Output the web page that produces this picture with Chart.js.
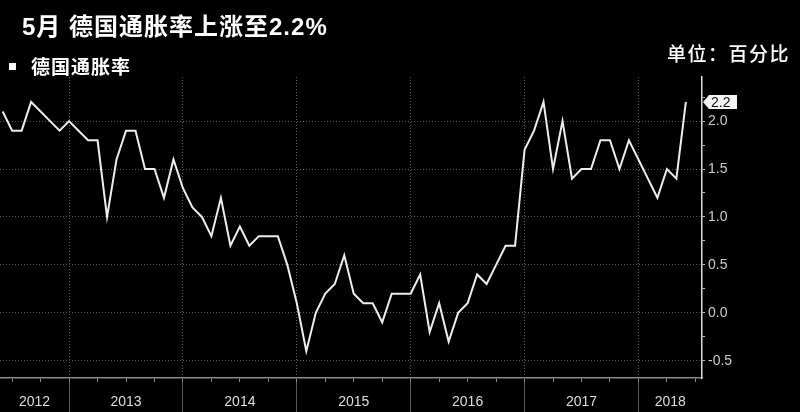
<!DOCTYPE html>
<html lang="zh-CN">
<head>
<meta charset="UTF-8">
<title>5月德国通胀率上涨至2.2%</title>
<script src="https://cdn.jsdelivr.net/npm/chart.js"></script>
<style>
  html, body { margin: 0; padding: 0; background: #000; }
  .wrap { position: relative; width: 800px; height: 412px; background: #000; overflow: hidden; }
  canvas { position: absolute; left: 0; top: 0; }
  .title {
    position: absolute; left: 22px; top: 12px; color: #fff; white-space: nowrap;
    font: bold 24px "Liberation Sans", "Noto Sans CJK SC", sans-serif; line-height: 30px;
    letter-spacing: 1px;
  }
  .legend {
    position: absolute; left: 9px; top: 54px; color: #fff; white-space: nowrap;
    font: bold 19px "Noto Sans CJK SC", sans-serif; line-height: 24px; letter-spacing: 1px;
  }
  .legend i { display: inline-block; width: 7px; height: 7px; background: #fff; margin-right: 15px; vertical-align: 4px; }
  .unit {
    position: absolute; left: 667px; top: 41px; color: #fff; white-space: nowrap;
    font: 500 19px "Noto Sans CJK SC", sans-serif; line-height: 24px; letter-spacing: 1.5px;
  }
</style>
</head>
<body>
<div class="wrap">
  <canvas id="cpiChart" width="800" height="412"></canvas>
  <div class="title">5月 德国通胀率上涨至2.2%</div>
  <div class="legend"><i></i>德国通胀率</div>
  <div class="unit">单位：百分比</div>
</div>

<script>
// monthly German inflation, May 2012 - May 2018 (%)
const months = [
  '2012-05', '2012-06', '2012-07', '2012-08', '2012-09', '2012-10', '2012-11', '2012-12',
  '2013-01', '2013-02', '2013-03', '2013-04', '2013-05', '2013-06', '2013-07', '2013-08', '2013-09', '2013-10', '2013-11', '2013-12',
  '2014-01', '2014-02', '2014-03', '2014-04', '2014-05', '2014-06', '2014-07', '2014-08', '2014-09', '2014-10', '2014-11', '2014-12',
  '2015-01', '2015-02', '2015-03', '2015-04', '2015-05', '2015-06', '2015-07', '2015-08', '2015-09', '2015-10', '2015-11', '2015-12',
  '2016-01', '2016-02', '2016-03', '2016-04', '2016-05', '2016-06', '2016-07', '2016-08', '2016-09', '2016-10', '2016-11', '2016-12',
  '2017-01', '2017-02', '2017-03', '2017-04', '2017-05', '2017-06', '2017-07', '2017-08', '2017-09', '2017-10', '2017-11', '2017-12',
  '2018-01', '2018-02', '2018-03', '2018-04', '2018-05'
];
const inflation = [
  2.1, 1.9, 1.9, 2.2, 2.1, 2.0, 1.9, 2.0,
  1.9, 1.8, 1.8, 1.0, 1.6, 1.9, 1.9, 1.5, 1.5, 1.2, 1.6, 1.3,
  1.1, 1.0, 0.8, 1.2, 0.7, 0.9, 0.7, 0.8, 0.8, 0.8, 0.5, 0.1,
  -0.4, 0.0, 0.2, 0.3, 0.6, 0.2, 0.1, 0.1, -0.1, 0.2, 0.2, 0.2,
  0.4, -0.2, 0.1, -0.3, 0.0, 0.1, 0.4, 0.3, 0.5, 0.7, 0.7, 1.7,
  1.9, 2.2, 1.5, 2.0, 1.4, 1.5, 1.5, 1.8, 1.8, 1.5, 1.8, 1.6,
  1.4, 1.2, 1.5, 1.4, 2.2
];
const years = ['2012', '2013', '2014', '2015', '2016', '2017', '2018'];
const yTicks = [-0.5, 0.0, 0.5, 1.0, 1.5, 2.0];

// x value = months since start of 2012, point placed at month end
const BASE_YEAR = 2012;
const toX = m => (parseInt(m.slice(0, 4)) - BASE_YEAR) * 12 + parseInt(m.slice(5, 7));
const points = months.map((m, i) => ({ x: toX(m), y: inflation[i] }));

const X_MIN = 4.72, X_MAX = 78.7;
const Y_MIN = -0.68, Y_MAX = 2.46;
const CLEAR = 'rgba(0,0,0,0)';
const isHalf = v => Math.abs(v * 2 - Math.round(v * 2)) < 1e-6;

// small white box with the latest value on the right axis
const lastValueTag = {
  id: 'lastValueTag',
  afterDraw(chart) {
    const { ctx, chartArea } = chart;
    const last = inflation[inflation.length - 1];
    const py = chart.scales.y.getPixelForValue(last);
    const x0 = chartArea.right + 1;
    ctx.save();
    ctx.fillStyle = '#f4f4f4';
    ctx.beginPath();
    ctx.moveTo(x0, py);
    ctx.lineTo(x0 + 6, py - 7);
    ctx.lineTo(x0 + 34, py - 7);
    ctx.lineTo(x0 + 34, py + 7);
    ctx.lineTo(x0 + 6, py + 7);
    ctx.closePath();
    ctx.fill();
    ctx.fillStyle = '#111';
    ctx.font = '14px "Liberation Sans", sans-serif';
    ctx.textBaseline = 'middle';
    ctx.fillText(last.toFixed(1), x0 + 8, py + 1);
    ctx.restore();
  }
};

new Chart(document.getElementById('cpiChart').getContext('2d'), {
  type: 'line',
  data: {
    datasets: [{
      label: '德国通胀率',
      data: points,
      borderColor: '#eeeeee',
      borderWidth: 2,
      pointRadius: 0,
      tension: 0,
      fill: false
    }]
  },
  options: {
    responsive: false,
    devicePixelRatio: 1,
    animation: false,
    layout: { padding: { top: 77, left: 0, right: 0, bottom: 0 } },
    plugins: { legend: { display: false }, title: { display: false }, tooltip: { enabled: false } },
    scales: {
      x: {
        type: 'linear', position: 'bottom', min: X_MIN, max: X_MAX,
        afterBuildTicks: s => {
          const t = [];
          for (let v = 3; v <= X_MAX; v += 3) if (v > X_MIN) t.push({ value: v });
          s.ticks = t;
        },
        afterFit: s => { s.height = 4; },
        ticks: { display: false },
        grid: {
          drawOnChartArea: true, drawTicks: true, tickLength: 4, lineWidth: 1,
          color: c => (c.tick && c.tick.value % 12 === 0) ? '#5c5c5c' : CLEAR,
          tickColor: '#8a8a8a'
        },
        border: { display: true, color: '#8a8a8a', width: 1.5, dash: [1, 2] }
      },
      x2: {
        type: 'linear', position: 'bottom', min: X_MIN, max: X_MAX,
        afterBuildTicks: s => {
          const t = [];
          years.forEach((y, i) => {
            const a = Math.max(i * 12, X_MIN), b = Math.min((i + 1) * 12, X_MAX);
            if (i > 0) t.push({ value: i * 12 });
            t.push({ value: (a + b) / 2 });
          });
          s.ticks = t;
        },
        afterFit: s => { s.height = 30; },
        grid: {
          drawOnChartArea: false, drawTicks: true, tickLength: 30, lineWidth: 1,
          color: CLEAR,
          tickColor: c => (c.tick && c.tick.value % 12 === 0) ? '#5a5a5a' : CLEAR
        },
        border: { display: false },
        ticks: {
          autoSkip: false, maxRotation: 0, padding: -18, color: '#dddddd',
          font: { family: '"Liberation Sans", sans-serif', size: 14 },
          callback: v => (v % 12 === 0) ? '' : years[Math.floor(v / 12)]
        }
      },
      y: {
        type: 'linear', position: 'right', min: Y_MIN, max: Y_MAX,
        afterBuildTicks: s => {
          const t = [];
          for (let k = 0; k < yTicks.length; k++) {
            t.push({ value: yTicks[k] });
            t.push({ value: yTicks[k] + 0.25 });
          }
          s.ticks = t;
        },
        afterFit: s => { s.width = 98; },
        grid: {
          drawTicks: true, tickLength: 3, lineWidth: 1,
          color: c => (c.tick && isHalf(c.tick.value)) ? '#5c5c5c' : CLEAR,
          tickColor: '#bbbbbb'
        },
        border: { display: true, color: '#dddddd', width: 1.5, dash: [1, 2] },
        ticks: {
          padding: 3, color: '#cccccc',
          font: { family: '"Liberation Sans", sans-serif', size: 14 },
          callback: v => isHalf(v) ? v.toFixed(1) : ''
        }
      }
    }
  },
  plugins: [lastValueTag]
});
</script>
</body>
</html>
